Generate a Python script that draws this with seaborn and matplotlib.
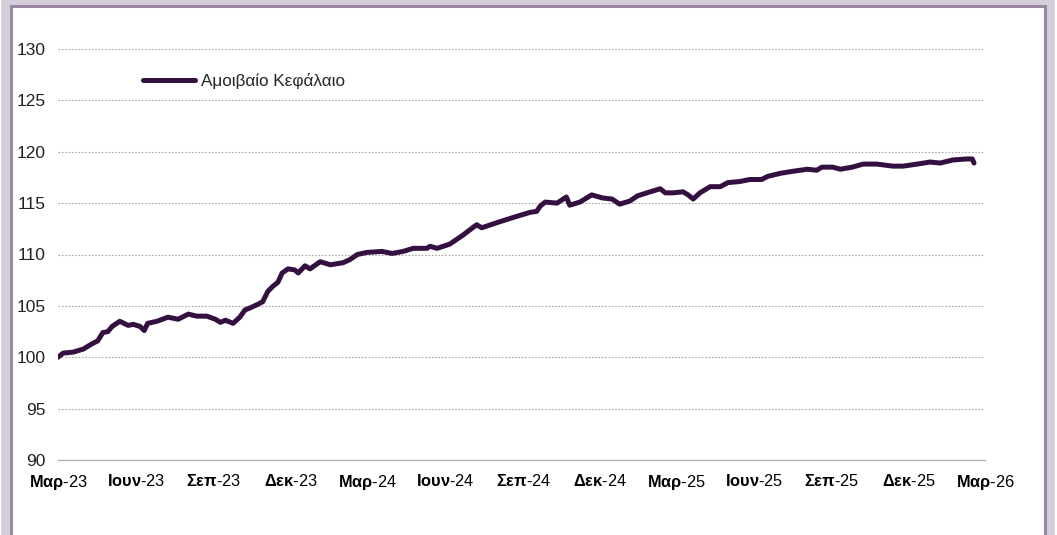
import pandas as pd
import matplotlib
matplotlib.use("Agg")
import matplotlib.pyplot as plt
import matplotlib.patches as mpatches
import seaborn as sns

# values
dates = ["2023-03-01", "2023-03-07", "2023-03-19", "2023-03-31", "2023-04-10", "2023-04-17",
         "2023-04-23", "2023-04-29", "2023-05-04", "2023-05-13", "2023-05-23", "2023-05-29",
         "2023-06-06", "2023-06-11", "2023-06-15", "2023-06-26", "2023-07-09", "2023-07-21",
         "2023-08-02", "2023-08-12", "2023-08-24", "2023-09-03", "2023-09-09", "2023-09-15",
         "2023-09-24", "2023-10-02", "2023-10-08", "2023-10-14", "2023-10-22", "2023-10-29",
         "2023-11-04", "2023-11-10", "2023-11-16", "2023-11-21", "2023-11-28", "2023-12-06",
         "2023-12-10", "2023-12-18", "2023-12-24", "2024-01-05", "2024-01-17", "2024-02-01",
         "2024-02-09", "2024-02-18", "2024-02-29", "2024-03-18", "2024-03-30", "2024-04-12",
         "2024-04-24", "2024-05-10", "2024-05-14", "2024-05-22", "2024-06-06", "2024-06-22",
         "2024-07-08", "2024-07-14", "2024-08-01", "2024-08-20", "2024-09-09", "2024-09-17",
         "2024-09-21", "2024-09-27", "2024-10-11", "2024-10-22", "2024-10-26", "2024-11-07",
         "2024-11-21", "2024-12-04", "2024-12-15", "2024-12-24", "2025-01-05", "2025-01-14",
         "2025-01-29", "2025-02-10", "2025-02-16", "2025-02-25", "2025-03-09", "2025-03-15",
         "2025-03-21", "2025-03-29", "2025-04-10", "2025-04-22", "2025-05-01", "2025-05-15",
         "2025-05-27", "2025-06-10", "2025-06-17", "2025-07-02", "2025-07-17", "2025-08-03",
         "2025-08-14", "2025-08-20", "2025-09-02", "2025-09-11", "2025-09-25", "2025-10-08",
         "2025-10-24", "2025-11-12", "2025-11-24", "2025-12-11", "2025-12-26", "2026-01-07",
         "2026-01-22", "2026-02-08", "2026-02-14", "2026-02-16"]
values = [100.0, 100.4, 100.5, 100.8, 101.3, 101.6,
          102.4, 102.5, 103.0, 103.5, 103.1, 103.2,
          103.0, 102.6, 103.3, 103.5, 103.9, 103.7,
          104.2, 104.0, 104.0, 103.7, 103.4, 103.6,
          103.3, 103.9, 104.6, 104.8, 105.1, 105.4,
          106.4, 106.9, 107.3, 108.2, 108.6, 108.5,
          108.2, 108.9, 108.6, 109.3, 109.0, 109.2,
          109.5, 110.0, 110.2, 110.3, 110.1, 110.3,
          110.6, 110.6, 110.8, 110.6, 111.0, 111.9,
          112.9, 112.6, 113.1, 113.6, 114.1, 114.2,
          114.7, 115.1, 115.0, 115.6, 114.8, 115.1,
          115.8, 115.5, 115.4, 114.9, 115.2, 115.7,
          116.1, 116.4, 116.0, 116.0, 116.1, 115.8,
          115.4, 116.0, 116.6, 116.6, 117.0, 117.1,
          117.3, 117.3, 117.6, 117.9, 118.1, 118.3,
          118.2, 118.5, 118.5, 118.3, 118.5, 118.8,
          118.8, 118.6, 118.6, 118.8, 119.0, 118.9,
          119.2, 119.3, 119.3, 118.9]
series_name = "Αμοιβαίο Κεφάλαιο"

tick_dates = ["2023-03-01", "2023-06-01", "2023-09-01", "2023-12-01", "2024-03-01", "2024-06-01",
              "2024-09-01", "2024-12-01", "2025-03-01", "2025-06-01", "2025-09-01", "2025-12-01",
              "2026-03-01"]
tick_months = ["Μαρ", "Ιουν", "Σεπ", "Δεκ", "Μαρ", "Ιουν", "Σεπ", "Δεκ", "Μαρ", "Ιουν", "Σεπ", "Δεκ", "Μαρ"]
tick_years = ["23", "23", "23", "23", "24", "24", "24", "24", "25", "25", "25", "25", "26"]
y_ticks = [90, 95, 100, 105, 110, 115, 120, 125, 130]

sns.set_style("white")
plt.rcParams["font.family"] = ["Liberation Sans", "DejaVu Sans"]
plt.rcParams["mathtext.fontset"] = "custom"
plt.rcParams["mathtext.rm"] = "Liberation Sans"
plt.rcParams["mathtext.bf"] = "Liberation Sans:bold"

df = pd.DataFrame({"date": pd.to_datetime(dates), "value": values, "series": series_name})

fig = plt.figure(figsize=(10.57, 5.35), dpi=100)
# outer frame with purple shadow
fig.patches.append(mpatches.Rectangle((6 / 1057, -0.05), 1044 / 1057, 1.0 - 2 / 535 + 0.05,
                                      transform=fig.transFigure, facecolor="none",
                                      edgecolor="#d6cedb", linewidth=7, zorder=-2))
fig.patches.append(mpatches.Rectangle((11 / 1057, -0.05), 1034 / 1057, 1.0 - 6 / 535 + 0.05,
                                      transform=fig.transFigure, facecolor="white",
                                      edgecolor="#9a88a3", linewidth=2.2, zorder=-1))

ax = fig.add_axes([58 / 1057, 1 - 460 / 535, 927 / 1057, 411 / 535])
ax.set_zorder(1)
ax.patch.set_alpha(0)
sns.lineplot(data=df, x="date", y="value", hue="series", palette=["#33103f"],
             linewidth=3.6, ax=ax)

ax.set_ylim(90, 130)
ax.set_xlim(pd.Timestamp("2023-03-01"), pd.Timestamp("2026-03-01"))
ax.set_yticks(y_ticks)
ax.set_yticklabels([str(v) for v in y_ticks], fontsize=12.5, color="#222222")
ax.set_xticks(pd.to_datetime(tick_dates))
ax.set_xticklabels([r"$\mathbf{%s}$-%s" % (m, y) for m, y in zip(tick_months, tick_years)],
                   fontsize=11.8, color="black")
ax.tick_params(axis="x", direction="out", length=5, width=0.8, color="#b0b0b0", pad=4)
ax.tick_params(axis="y", length=0, pad=9)

ax.grid(axis="y", linestyle=(0, (1.5, 1.5)), color="#a8a8a8", linewidth=0.8)
ax.grid(axis="x", visible=False)
for side in ["top", "right", "left"]:
    ax.spines[side].set_visible(False)
ax.spines["bottom"].set_color("#b0b0b0")
ax.spines["bottom"].set_linewidth(0.9)

ax.set_xlabel("")
ax.set_ylabel("")
ax.legend(loc="center left", bbox_to_anchor=(0.092, 0.922), frameon=False, fontsize=12.3,
          handlelength=3.05, handletextpad=0.3, borderaxespad=0, borderpad=0)

fig.savefig("out.png", dpi=100)
